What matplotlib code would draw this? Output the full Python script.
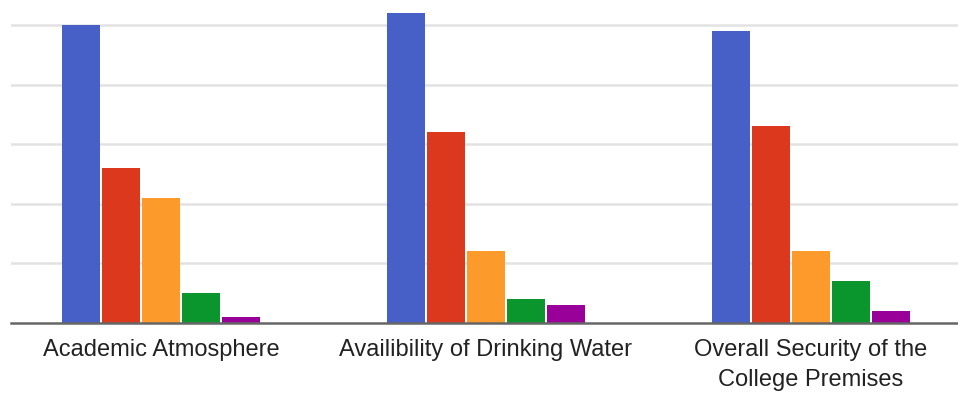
import numpy as np
import matplotlib
matplotlib.use("Agg")
import matplotlib.pyplot as plt

# Responses per rating level for each facility (103 respondents each).
categories = ["Academic Atmosphere", "Availibility of Drinking Water",
              "Overall Security of the\nCollege Premises"]
excellent = [50, 52, 49]
good = [26, 32, 33]
average = [21, 12, 12]
poor = [5, 4, 7]
very_poor = [1, 3, 2]

series = [excellent, good, average, poor, very_poor]
colors = ["#4660c8", "#dc381d", "#fd9a2c", "#0a962c", "#990099"]

W, H = 958, 398
fig = plt.figure(figsize=(W / 100, H / 100), dpi=100)
px_per_unit = 5.95
y_top = 54
ax = fig.add_axes([11 / W, 75.5 / H, (W - 11) / W, y_top * px_per_unit / H])

x = np.arange(len(categories))
pitch = 40 / 325
width = 38 / 325
for i, (vals, col) in enumerate(zip(series, colors)):
    offs = (i - 2) * pitch
    ax.bar(x + offs, vals, width=width, color=col, edgecolor="none", zorder=3)

ax.set_xlim(-0.461, 2.453)
ax.set_ylim(0, y_top)
ax.set_yticks([10, 20, 30, 40, 50])
ax.yaxis.grid(True, color="#e2e2e2", lw=1.8, zorder=0)
ax.tick_params(axis="y", length=0, labelleft=False)
for s in ["top", "right", "left"]:
    ax.spines[s].set_visible(False)
ax.spines["bottom"].set_color("#666666")
ax.spines["bottom"].set_linewidth(1.8)
ax.spines["bottom"].set_zorder(4)

ax.set_xticks(x)
ax.set_xticklabels(categories, fontsize=17, color="#222222",
                   family=["Liberation Sans", "DejaVu Sans"], linespacing=1.45)
ax.tick_params(axis="x", length=0, pad=12)

fig.savefig("out.png", dpi=100)
